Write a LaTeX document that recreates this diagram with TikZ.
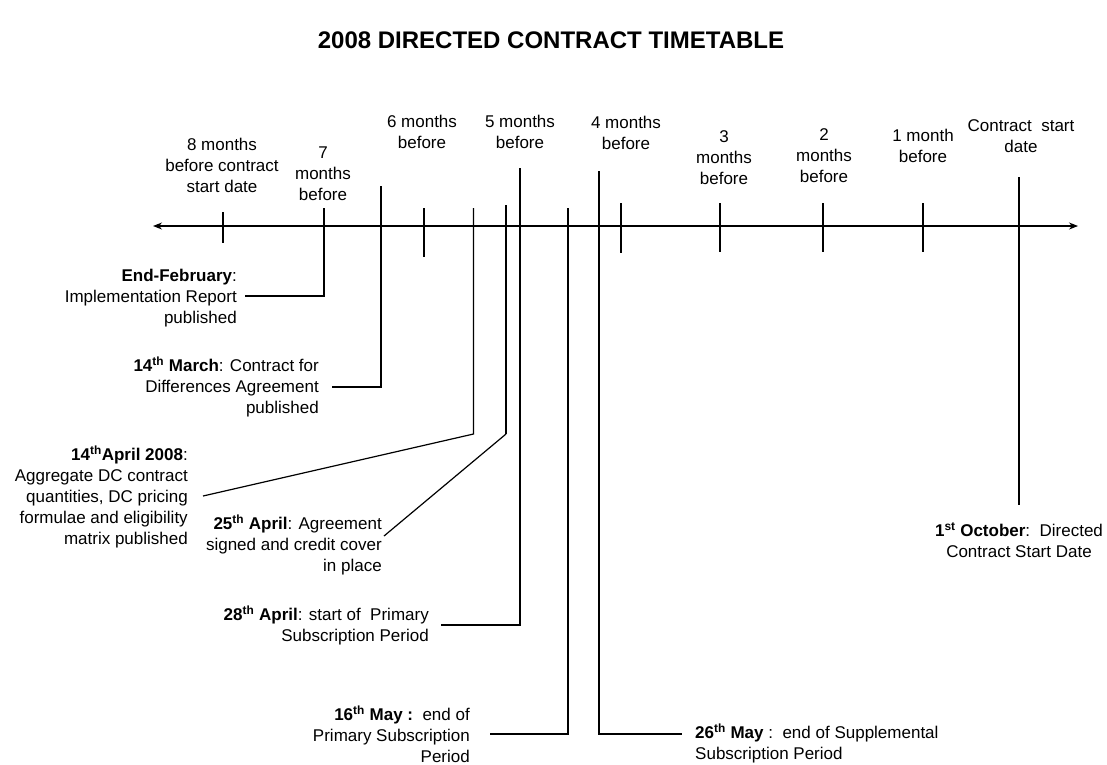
\documentclass[tikz,border=0pt]{standalone}
\usepackage{fontspec}
\setmainfont{Liberation Sans}
\usetikzlibrary{arrows.meta}
\begin{document}
\begin{tikzpicture}[x=1pt,y=-1pt,
  ln/.style={line width=1.2pt,black},
  thk/.style={line width=2pt,black},
  toplbl/.style={align=center,inner sep=0pt,font=\fontsize{17}{21}\selectfont},
  rlbl/.style={align=right,inner sep=0pt,anchor=east,font=\fontsize{17}{21}\selectfont},
  llbl/.style={align=left,inner sep=0pt,anchor=west,font=\fontsize{17}{21}\selectfont},
  clbl/.style={align=center,inner sep=0pt,font=\fontsize{17}{21}\selectfont},
  ttl/.style={inner sep=0pt,font=\fontsize{24}{28}\selectfont\bfseries}]
\useasboundingbox (0,0) rectangle (1107,764);
\fill[white] (0,0) rectangle (1107,764);

\node[ttl] (title) at (551,40) {2008 DIRECTED CONTRACT TIMETABLE};

% axis
\coordinate (axL) at (153,226);
\coordinate (axR) at (1078,226);
\draw[ln,{Stealth[length=9pt,width=7pt]}-{Stealth[length=9pt,width=7pt]}] (axL) -- (axR);

% top labels
\node[toplbl] (m8) at (222,165) {8 months\\before contract\\start date};
\node[toplbl] (m7) at (323,174) {7\\months\\before};
\node[toplbl] (m6) at (422,131.5) {6 months\\before};
\node[toplbl] (m5) at (520,131.5) {5 months\\before};
\node[toplbl] (m4) at (626,132.5) {4 months\\before};
\node[toplbl] (m3) at (724,158) {3\\months\\before};
\node[toplbl] (m2) at (824,156) {2\\months\\before};
\node[toplbl] (m1) at (923,145.5) {1 month\\before};
\node[toplbl] (m0) at (1021,136) {Contract\ \ start\\date};

% short ticks
\draw[ln] (223,212) -- (223,243);
\draw[ln] (424,208) -- (424,257);
\draw[ln] (621,203) -- (621,253);
\draw[ln] (720,203) -- (720,252);
\draw[ln] (823,203) -- (823,252);
\draw[ln] (923,203) -- (923,252);

% event labels
\node[rlbl] (feb) at (237,298) {\textbf{End-February}:\\Implementation Report\\published};
\node[rlbl] (mar) at (319,387) {\textbf{14\textsuperscript{th} March}: Contract for\\Differences Agreement\\published};
\node[rlbl] (apr14) at (188,497) {\textbf{14\textsuperscript{th}April 2008}:\\Aggregate DC contract\\quantities, DC pricing\\formulae and eligibility\\matrix published};
\node[rlbl] (apr25) at (382,545) {\textbf{25\textsuperscript{th} April}: Agreement\\signed and credit cover\\in place};
\node[rlbl] (apr28) at (429,625.5) {\textbf{28\textsuperscript{th} April}: start of\ \ Primary\\Subscription Period};
\node[rlbl] (may16) at (470,734) {\textbf{16\textsuperscript{th} May :}\ \ end of\\Primary Subscription\\Period};
\node[llbl] (may26) at (695,743.5) {\textbf{26\textsuperscript{th} May} :\ \ end of Supplemental\\Subscription Period};
\node[clbl] (oct1) at (1019,540) {\textbf{1\textsuperscript{st} October}:\ \ Directed\\Contract Start Date};

% connector coordinates
\coordinate (c7t) at (324,208);   \coordinate (c7e) at (245,296);
\coordinate (c6t) at (381,186);   \coordinate (c6e) at (332,387);
\coordinate (c14t) at (473.5,208);  \coordinate (c14b) at (473.5,434); \coordinate (c14e) at (203,496);
\coordinate (c25t) at (506,205);  \coordinate (c25b) at (506,434); \coordinate (c25e) at (384,536);
\coordinate (c28t) at (520,168);  \coordinate (c28e) at (441,625);
\coordinate (c16t) at (568,208);  \coordinate (c16e) at (490,734);
\coordinate (c26t) at (599,171);  \coordinate (c26e) at (682,734);
\coordinate (c0t) at (1019,177);  \coordinate (c0b) at (1019,505);

\draw[ln] (c7t) |- (c7e);
\draw[ln] (c6t) |- (c6e);
\draw[ln] (c14t) -- (c14b) -- (c14e);
\draw[thk] (c25t) -- (c25b);
\draw[ln] (c25b) -- (c25e);
\draw[ln] (c28t) |- (c28e);
\draw[ln] (c16t) |- (c16e);
\draw[ln] (c26t) |- (c26e);
\draw[ln] (c0t) -- (c0b);
\end{tikzpicture}
\end{document}
